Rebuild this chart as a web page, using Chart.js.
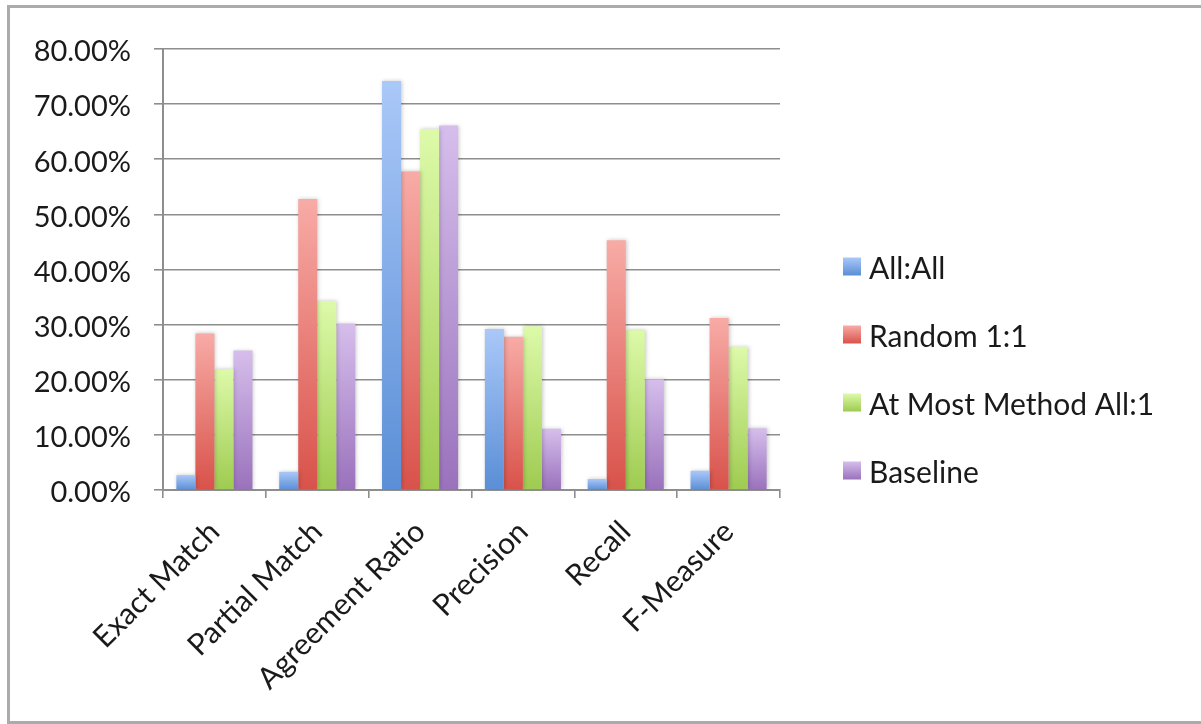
<!DOCTYPE html>
<html>
<head>
<meta charset="utf-8">
<script src="https://cdn.jsdelivr.net/npm/chart.js@4/dist/chart.umd.min.js"></script>
<style>
  html, body { margin: 0; padding: 0; background: #ffffff; }
  #wrap { position: relative; width: 1201px; height: 724px; }
  canvas { display: block; }
</style>
</head>
<body>
<div id="wrap"><canvas id="chart" width="1201" height="724"></canvas></div>
<script>
// Evaluation metrics per alignment method (percent)
const categories = ['Exact Match', 'Partial Match', 'Agreement Ratio', 'Precision', 'Recall', 'F-Measure'];
const seriesNames = ['All:All', 'Random 1:1', 'At Most Method All:1', 'Baseline'];
const allAll   = [2.7, 3.3, 74.2, 29.2, 2.0, 3.5];
const random11 = [28.4, 52.8, 57.8, 27.8, 45.3, 31.2];
const atMost   = [21.9, 34.3, 65.5, 29.7, 29.0, 26.0];
const baseline = [25.3, 30.2, 66.1, 11.1, 20.1, 11.2];
const yTickValues = [0, 10, 20, 30, 40, 50, 60, 70, 80];

const FONT = 'Lato, "Open Sans", sans-serif';
const TEXT = '#1a1a1a';
const GRID = '#8e8e8e';

// light (top) and dark (bottom) shade of each series
const shades = [
  ['#aac8f8', '#5a8ed6'],
  ['#f8aba6', '#d8524a'],
  ['#ddfaa9', '#9ecb50'],
  ['#d6beec', '#9a72bc']
];

function barGradient(i) {
  return function (ctx) {
    const chart = ctx.chart;
    const y = chart.scales.y;
    if (!y || ctx.raw === undefined) return shades[i][1];
    const top = y.getPixelForValue(ctx.raw);
    const bottom = y.getPixelForValue(0);
    if (!isFinite(top) || !isFinite(bottom) || bottom - top < 1) return shades[i][1];
    const g = chart.ctx.createLinearGradient(0, top, 0, bottom);
    g.addColorStop(0, shades[i][0]);
    g.addColorStop(1, shades[i][1]);
    return g;
  };
}

const seriesValues = [allAll, random11, atMost, baseline];
const datasets = seriesNames.map((name, i) => ({
  label: name,
  data: seriesValues[i],
  backgroundColor: barGradient(i),
  borderWidth: 0,
  barPercentage: 1.0,
  categoryPercentage: 0.74
}));

// white page with the grey outer frame
const framePlugin = {
  id: 'frame',
  beforeDraw(chart) {
    const c = chart.ctx;
    c.save();
    c.fillStyle = '#ffffff';
    c.fillRect(0, 0, chart.width, chart.height);
    c.strokeStyle = '#ababab';
    c.lineWidth = 3;
    c.beginPath();
    c.moveTo(chart.width + 5, 6.5);
    c.lineTo(8.5, 6.5);
    c.lineTo(8.5, 722.5);
    c.lineTo(chart.width + 5, 722.5);
    c.stroke();
    c.restore();
  }
};

// soft shadow behind the bars
const shadowPlugin = {
  id: 'barShadow',
  beforeDatasetsDraw(chart) {
    const c = chart.ctx;
    c.save();
    c.shadowColor = 'rgba(0,0,0,0.22)';
    c.shadowBlur = 4;
    c.shadowOffsetX = 1;
    c.shadowOffsetY = 0;
  },
  afterDatasetsDraw(chart) {
    chart.ctx.restore();
  }
};

// legend list to the right of the plot
const legendPlugin = {
  id: 'sideLegend',
  afterDraw(chart) {
    const c = chart.ctx;
    c.save();
    chart.data.datasets.forEach((ds, i) => {
      const yc = 266.5 + i * 68;
      const g = c.createLinearGradient(0, yc - 9, 0, yc + 9);
      g.addColorStop(0, shades[i][0]);
      g.addColorStop(1, shades[i][1]);
      c.fillStyle = g;
      c.fillRect(843, yc - 9, 18, 18);
      c.fillStyle = TEXT;
      c.font = '30px ' + FONT;
      c.textAlign = 'left';
      c.textBaseline = 'middle';
      c.fillText(ds.label, 869, yc + 3);
    });
    c.restore();
  }
};

new Chart(document.getElementById('chart'), {
  type: 'bar',
  data: { labels: categories, datasets: datasets },
  plugins: [framePlugin, shadowPlugin, legendPlugin],
  options: {
    responsive: false,
    animation: false,
    devicePixelRatio: 1,
    layout: { padding: { top: 49, right: 421, left: 0, bottom: 0 } },
    plugins: {
      legend: { display: false },
      tooltip: { enabled: false }
    },
    scales: {
      y: {
        min: 0,
        max: 80,
        afterBuildTicks(scale) {
          scale.ticks = yTickValues.map(v => ({ value: v }));
        },
        afterFit(scale) { scale.width = 163; },
        ticks: {
          callback: v => Number(v).toFixed(2) + '%',
          font: { family: FONT, size: 29 },
          color: TEXT,
          padding: 23,
          labelOffset: 3
        },
        grid: { color: GRID, lineWidth: 1.6, tickLength: 9 },
        border: { display: true, color: GRID, width: 2 }
      },
      x: {
        afterFit(scale) { scale.height = 234; },
        ticks: {
          maxRotation: 45,
          minRotation: 45,
          font: { family: FONT, size: 30 },
          color: TEXT,
          padding: 16,
          autoSkip: false
        },
        grid: { drawOnChartArea: false, color: GRID, lineWidth: 1.6, tickLength: 8, offset: true },
        border: { display: true, color: GRID, width: 2 }
      }
    }
  }
});
</script>
</body>
</html>
